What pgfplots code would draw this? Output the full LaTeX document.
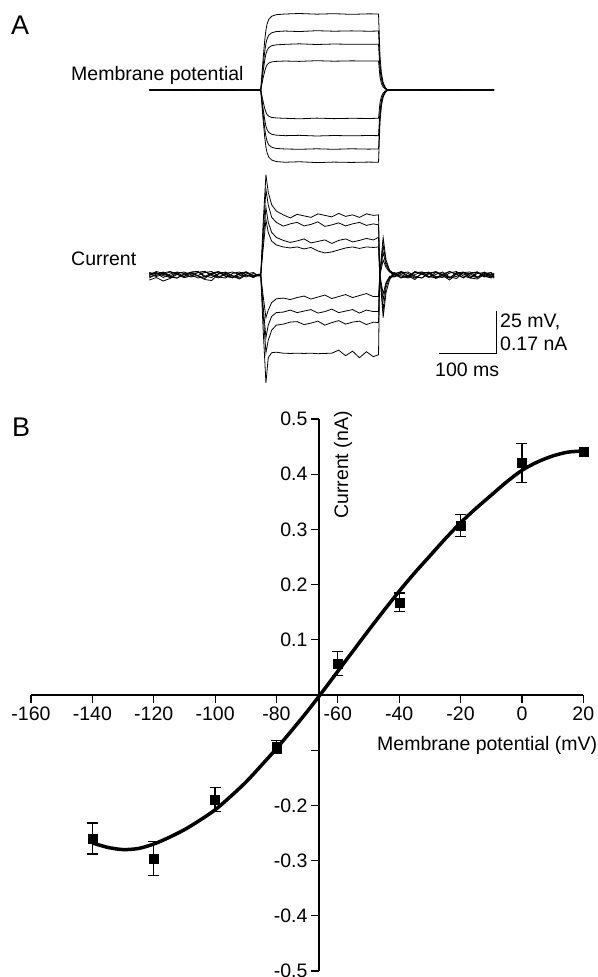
\documentclass[border=0pt]{standalone}
\usepackage{pgfplots}
\usepackage{pgfplotstable}
\pgfplotsset{compat=1.18}
\usepackage{fontspec}
\setmainfont{Liberation Sans}

% Panel A: membrane potential steps (mV relative to holding)
\pgfplotstableread{
t v1 v2 v3 v4 v5 v6 v7 v8
0 0 0 0 0 0 0 0 0
60 0.1 0 -0.1 0 0.1 0 -0.1 0
120 -0.1 0.1 0 0.1 0 -0.1 0 0.1
193 0 0 0 0 0 0 0 0
197 17.8 13.8 10.7 6.8 -6.6 -10.7 -13.8 -17.0
200 29.4 22.8 17.7 11.2 -11.0 -17.7 -22.8 -28.0
202 35.2 27.3 21.2 13.4 -13.1 -21.2 -27.3 -33.5
204 38.8 30.1 23.3 14.8 -14.4 -23.3 -30.1 -36.9
207 41.5 32.2 24.9 15.8 -15.4 -24.9 -32.2 -39.4
212 43.3 33.6 26.0 16.5 -16.1 -26.0 -33.6 -41.1
220 44.2 34.3 26.5 16.8 -16.4 -26.5 -34.3 -42.0
235 44.6 34.6 26.8 17.0 -16.6 -26.8 -34.6 -42.4
260 44.9 34.3 27.1 16.8 -16.9 -26.6 -34.8 -42.1
290 44.5 34.8 26.7 17.2 -16.5 -27.0 -34.5 -42.6
320 44.8 34.5 27.0 16.9 -16.8 -26.7 -34.8 -42.3
350 44.4 34.7 26.8 17.1 -16.6 -26.9 -34.5 -42.5
380 44.7 34.5 26.9 17.0 -16.7 -26.7 -34.7 -42.3
397 44.6 34.6 26.8 17.0 -16.6 -26.8 -34.6 -42.4
399.5 20.1 15.6 12.1 7.7 -7.5 -12.1 -15.6 -19.1
402 9.8 7.6 5.9 3.7 -3.7 -5.9 -7.6 -9.3
405 4.5 3.5 2.7 1.7 -1.7 -2.7 -3.5 -4.2
409 1.3 1.0 0.8 0.5 -0.5 -0.8 -1.0 -1.3
414 -0.3 -0.2 -0.1 0 0.1 0.2 0.3 0.3
422 0 0 0 0 0 0 0 0
500 0.1 0 -0.1 0 0 0.1 0 -0.1
597 0 0 0 0 0 0 0 0
}\vdata

% Panel A: current traces (nA)
\pgfplotstableread{
t p1 p2 p3 p4 n1 n2 n3 n4
0 0.004 -0.006 0.010 -0.002 0.006 -0.012 0.000 -0.020
12 0.010 -0.002 0.004 0.008 -0.006 0.004 0.014 -0.010
24 -0.002 0.008 0.012 -0.010 0.002 0.010 0.006 -0.024
36 -0.010 0.014 -0.006 0.004 0.012 -0.004 -0.008 -0.014
48 0.006 0.004 -0.012 0.012 0.004 0.010 -0.012 0.002
60 0.012 -0.010 0.002 0.006 -0.010 -0.006 0.004 -0.006
72 0.002 -0.004 0.010 -0.008 -0.004 0.012 0.010 0.008
84 -0.012 0.010 0.014 -0.002 0.010 0.014 -0.002 -0.004
96 -0.006 0.014 -0.004 0.010 0.014 -0.008 -0.014 -0.018
108 0.008 0.002 -0.010 0.014 -0.002 0.002 0.006 -0.022
120 0.014 -0.008 0.006 -0.006 -0.012 0.012 0.012 0.004
132 -0.004 -0.012 0.012 0.002 0.006 0.006 -0.006 0.010
144 -0.010 0.006 -0.002 -0.012 0.012 -0.010 -0.010 -0.004
156 0.004 0.012 -0.012 0.006 0.002 -0.004 0.008 -0.016
168 0.012 0.000 0.004 0.012 -0.008 0.010 0.012 0.000
180 -0.002 -0.008 0.010 -0.004 0.006 -0.008 -0.004 -0.010
190 0.002 0.004 -0.004 -0.002 -0.004 0.002 -0.002 0.000
193 0 0 0 0 0 0 0 0
197 0.20 0.16 0.13 0.10 -0.08 -0.12 -0.15 -0.21
202 0.40 0.34 0.27 0.22 -0.17 -0.25 -0.31 -0.43
206 0.33 0.28 0.21 0.17 -0.14 -0.20 -0.26 -0.33
212 0.28 0.23 0.17 0.135 -0.11 -0.165 -0.22 -0.31
220 0.255 0.21 0.15 0.12 -0.095 -0.15 -0.20 -0.308
232 0.240 0.195 0.138 0.112 -0.092 -0.148 -0.196 -0.312
244 0.228 0.204 0.130 0.108 -0.098 -0.140 -0.188 -0.313
256 0.242 0.210 0.136 0.112 -0.090 -0.150 -0.186 -0.312
268 0.236 0.196 0.144 0.104 -0.084 -0.144 -0.198 -0.313
280 0.230 0.202 0.128 0.110 -0.096 -0.138 -0.192 -0.312
292 0.244 0.212 0.134 0.096 -0.088 -0.152 -0.184 -0.314
304 0.238 0.194 0.140 0.088 -0.080 -0.146 -0.200 -0.313
316 0.232 0.200 0.126 0.092 -0.094 -0.136 -0.190 -0.312
328 0.246 0.208 0.138 0.100 -0.086 -0.150 -0.182 -0.300
340 0.234 0.196 0.144 0.108 -0.078 -0.144 -0.196 -0.322
352 0.240 0.204 0.132 0.112 -0.090 -0.138 -0.188 -0.304
364 0.230 0.210 0.138 0.106 -0.082 -0.152 -0.184 -0.330
376 0.244 0.198 0.146 0.112 -0.074 -0.140 -0.198 -0.306
388 0.238 0.204 0.140 0.110 -0.086 -0.146 -0.188 -0.326
397 0.240 0.200 0.150 0.112 -0.086 -0.146 -0.190 -0.318
399 0.010 0.008 -0.004 0.006 -0.006 0.004 -0.008 0.002
405 -0.17 -0.14 -0.10 -0.075 0.06 0.09 0.12 0.15
410 -0.07 -0.05 -0.035 -0.03 0.03 0.04 0.05 0.06
416 -0.020 -0.012 -0.010 -0.006 0.012 0.014 0.018 0.020
424 0.006 -0.004 0.010 -0.008 0.002 0.008 -0.006 0.004
436 0.012 0.008 -0.004 0.002 0.014 -0.010 0.010 -0.012
448 -0.002 0.012 -0.012 -0.010 0.006 -0.002 -0.006 -0.004
460 -0.012 -0.004 0.002 0.012 -0.008 0.010 0.014 -0.018
472 0.004 -0.012 0.012 0.006 -0.012 0.012 0.004 0.008
484 0.012 0.004 0.006 -0.008 0.008 -0.006 -0.010 0.010
496 -0.006 0.014 -0.010 0.010 0.012 -0.012 0.002 -0.014
508 -0.010 0.002 -0.002 0.002 -0.004 0.004 0.012 -0.002
520 0.008 -0.010 0.014 -0.012 -0.012 0.014 -0.008 -0.020
532 0.014 -0.006 0.004 0.008 0.010 0.002 -0.014 0.004
544 -0.004 0.010 -0.012 0.012 0.004 -0.010 0.010 0.010
556 -0.012 0.012 0.008 -0.004 -0.010 0.006 0.004 -0.012
568 0.006 -0.008 0.012 -0.010 0.012 0.012 -0.010 -0.016
580 0.010 -0.002 -0.006 0.006 -0.002 -0.008 0.012 0.002
592 -0.006 0.010 -0.010 0.010 -0.012 0.004 -0.002 -0.008
597 -0.004 -0.010 0.004 -0.002 0.008 -0.006 -0.012 -0.008
}\cdata

% Panel B: mean I-V points with error
\pgfplotstableread{
v i e
-140 -0.260 0.028
-120 -0.296 0.031
-100 -0.189 0.022
-80 -0.094 0.011
-60 0.057 0.022
-40 0.168 0.017
-20 0.307 0.020
0 0.420 0.035
20 0.440 0
}\ivdata

% Panel B: fitted curve
\pgfplotstableread{
v i
-140 -0.268
-135 -0.276
-130 -0.280
-125 -0.278
-120 -0.270
-115 -0.258
-110 -0.244
-105 -0.227
-100 -0.208
-95 -0.184
-90 -0.158
-85 -0.128
-80 -0.097
-75 -0.064
-70 -0.030
-65 0.006
-60 0.043
-55 0.080
-50 0.117
-45 0.153
-40 0.188
-35 0.221
-30 0.252
-25 0.283
-20 0.312
-15 0.338
-10 0.362
-5 0.386
0 0.407
5 0.422
10 0.433
15 0.440
20 0.442
}\fitdata

\begin{document}
\begin{tikzpicture}[font=\fontsize{19.5}{22}\selectfont]
\path[use as bounding box] (0pt,0pt) rectangle (597pt,-977pt);

% ---------- Panel A: membrane potential ----------
\begin{axis}[at={(149.3pt,-175.2pt)}, anchor=south west, scale only axis,
  width=344.7pt, height=170.4pt, xmin=0, xmax=597, ymin=-50, ymax=50,
  hide axis, clip=false]
\foreach \c in {v1,v2,v3,v4,v5,v6,v7,v8}{
  \addplot[black, line width=0.8pt, no markers] table[x=t, y=\c] {\vdata};
}
\end{axis}

% ---------- Panel A: current ----------
\begin{axis}[at={(149.3pt,-400.3pt)}, anchor=south west, scale only axis,
  width=344.7pt, height=250.6pt, xmin=0, xmax=597, ymin=-0.5, ymax=0.5,
  hide axis, clip=false]
\foreach \c in {p1,p2,p3,p4,n1,n2,n3,n4}{
  \addplot[black, line width=0.8pt, no markers] table[x=t, y=\c] {\cdata};
}
\draw[black, line width=1pt] (axis cs:500.9,-0.3125) -- (axis cs:600.9,-0.3125) -- (axis cs:600.9,-0.1425);
\end{axis}

\node[anchor=base west, inner sep=0pt, font=\fontsize{27}{30}\selectfont] at (11pt,-34pt) {A};
\node[anchor=base west, inner sep=0pt] at (71pt,-80pt) {Membrane potential};
\node[anchor=base west, inner sep=0pt] at (71pt,-265pt) {Current};
\node[anchor=base west, inner sep=0pt] at (500pt,-327pt) {25 mV,};
\node[anchor=base west, inner sep=0pt] at (500pt,-350pt) {0.17 nA};
\node[anchor=base west, inner sep=0pt] at (435pt,-376pt) {100 ms};
\node[anchor=base west, inner sep=0pt, font=\fontsize{27}{30}\selectfont] at (12pt,-436pt) {B};

% ---------- Panel B: I-V relation ----------
\begin{axis}[at={(31pt,-971pt)}, anchor=south west, scale only axis,
  width=552.3pt, height=552pt,
  xmin=-160, xmax=20, ymin=-0.5, ymax=0.5,
  axis x line*=bottom, axis y line*=left,
  axis x line shift=-276pt, axis y line shift=-288pt,
  axis line style={line width=1.2pt, black},
  tick align=outside, major tick length=8pt,
  every tick/.style={black, line width=1.2pt},
  xtick={-160,-140,-120,-100,-80,-60,-40,-20,0,20},
  xticklabels={-160,-140,-120,-100,-80,-60,-40,-20,0,20},
  ytick={-0.5,-0.4,-0.3,-0.2,-0.1,0.1,0.2,0.3,0.4,0.5},
  yticklabels={-0.5,-0.4,-0.3,-0.2,{},0.1,0.2,0.3,0.4,0.5},
  tick label style={font=\fontsize{19.5}{22}\selectfont},
  xlabel={Membrane potential (mV)},
  ylabel={Current (nA)},
  x label style={at={(rel axis cs:0.6265,0.3986)}, anchor=base west, inner sep=0pt, font=\fontsize{19.5}{22}\selectfont},
  y label style={at={(rel axis cs:0.565,0.9167)}, anchor=center, rotate=0, font=\fontsize{19.5}{22}\selectfont},
  clip=false]
\addplot[only marks, mark=square*, mark size=4.5pt, black,
  error bars/.cd, y dir=both, y explicit,
  error bar style={line width=1.3pt, black},
  error mark options={rotate=90, mark size=5.5pt, line width=1.3pt, black}]
  table[x=v, y=i, y error=e] {\ivdata};
\addplot[black, line width=3.5pt, smooth, no markers] table[x=v, y=i] {\fitdata};
\end{axis}
\end{tikzpicture}
\end{document}
